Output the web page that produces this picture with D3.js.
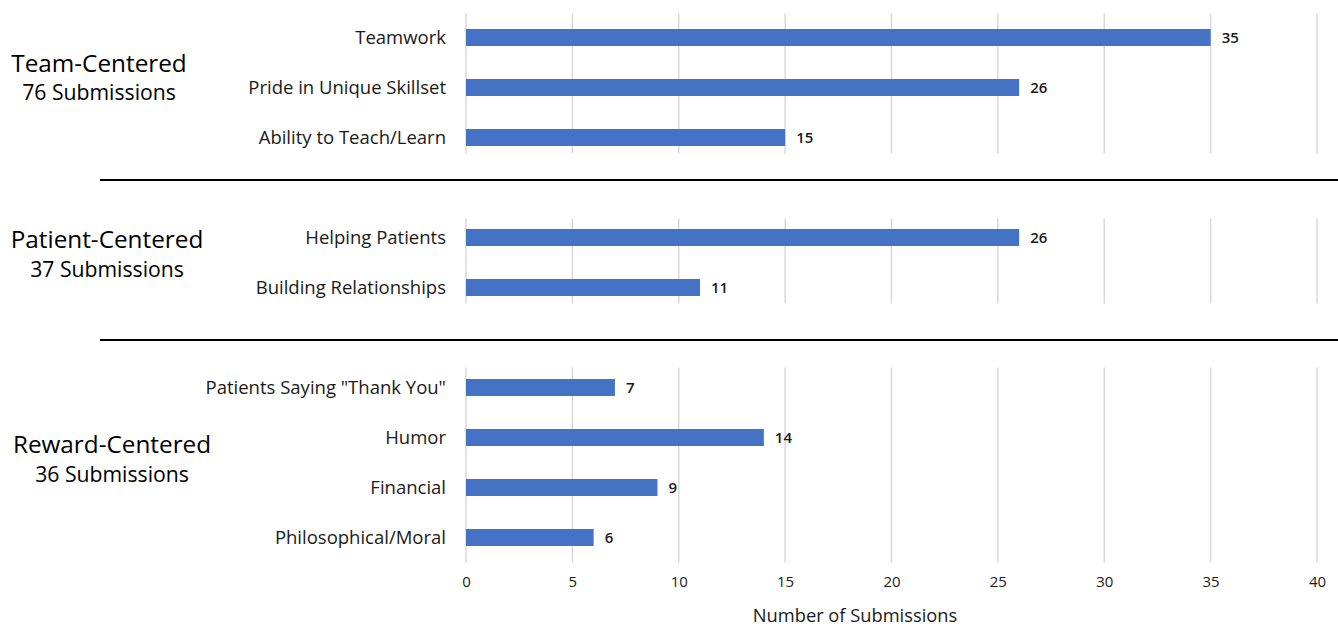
<!DOCTYPE html>
<html>
<head>
<meta charset="utf-8">
<script src="https://cdn.jsdelivr.net/npm/d3@7"></script>
<style>
  html, body { margin: 0; padding: 0; background: #fff; }
  svg { display: block; font-family: "Open Sans", Lato, sans-serif; }
</style>
</head>
<body>
<svg id="chart" width="1338" height="626"></svg>
<script>
// ---- data ----
const groupNames = ["Team-Centered", "Patient-Centered", "Reward-Centered"];
const groupTotals = [76, 37, 36];
const categories = [
  "Teamwork", "Pride in Unique Skillset", "Ability to Teach/Learn",
  "Helping Patients", "Building Relationships",
  "Patients Saying \"Thank You\"", "Humor", "Financial", "Philosophical/Moral"
];
const values = [35, 26, 15, 26, 11, 7, 14, 9, 6];
const categoryGroup = [0, 0, 0, 1, 1, 2, 2, 2, 2];
const xTicks = [0, 5, 10, 15, 20, 25, 30, 35, 40];
const axisTitle = "Number of Submissions";

// ---- layout ----
const svg = d3.select("#chart");
const x = d3.scaleLinear().domain([0, 40]).range([466, 1317]);
// row index: category index + group index (one empty row between groups)
const rowOf = i => i + categoryGroup[i];
const y = d3.scaleLinear().domain([0, 10]).range([37.5, 537.5]);
const barH = 17;
const color = "#4472C4";

// group extents for gridlines
const groupRows = groupNames.map((g, gi) => {
  const rows = categories.map((c, i) => i).filter(i => categoryGroup[i] === gi).map(rowOf);
  return [d3.min(rows), d3.max(rows)];
});
const gridPad = [[-24, 16], [-19, 16], [-20, 25]];

// gridlines
groupRows.forEach((r, gi) => {
  svg.append("g").selectAll("line").data(xTicks).join("line")
    .attr("x1", d => x(d)).attr("x2", d => x(d))
    .attr("y1", y(r[0]) + gridPad[gi][0])
    .attr("y2", y(r[1]) + gridPad[gi][1])
    .attr("stroke", "#d9d9d9").attr("stroke-width", 1.5);
});

// separators
[180, 340].forEach(sy => {
  svg.append("line").attr("x1", 100).attr("x2", 1338)
    .attr("y1", sy).attr("y2", sy)
    .attr("stroke", "#000").attr("stroke-width", 2);
});

// bars
const idx = categories.map((c, i) => i);
svg.append("g").selectAll("rect").data(idx).join("rect")
  .attr("x", x(0))
  .attr("y", i => y(rowOf(i)) - barH / 2)
  .attr("width", i => x(values[i]) - x(0))
  .attr("height", barH)
  .attr("fill", color);

// value labels
svg.append("g").selectAll("text").data(idx).join("text")
  .attr("x", i => x(values[i]) + 11)
  .attr("y", i => y(rowOf(i)))
  .attr("dy", "0.35em")
  .attr("font-size", 15)
  .attr("font-weight", 600)
  .attr("fill", "#1a1a1a")
  .text(i => values[i]);

// category labels
svg.append("g").selectAll("text").data(idx).join("text")
  .attr("x", 446)
  .attr("y", i => y(rowOf(i)))
  .attr("dy", "0.35em")
  .attr("text-anchor", "end")
  .attr("font-size", 18.5)
  .attr("fill", "#1a1a1a")
  .text(i => categories[i]);

// x axis tick labels
const axis = d3.axisBottom(x).tickValues(xTicks).tickSize(0).tickPadding(0);
const ax = svg.append("g").attr("transform", "translate(0,576)").call(axis);
ax.select(".domain").remove();
ax.selectAll("text").attr("font-size", 15).attr("fill", "#1a1a1a")
  .attr("font-family", "'Open Sans', Lato, sans-serif");

// axis title
svg.append("text").attr("x", 855).attr("y", 622)
  .attr("text-anchor", "middle").attr("font-size", 18.3).attr("fill", "#1a1a1a")
  .text(axisTitle);

// group titles
const titlePos = [[99, 72, 100], [107, 248, 277], [112, 453, 482]];
groupNames.forEach((g, gi) => {
  const [cx, y1, y2] = titlePos[gi];
  svg.append("text").attr("x", cx).attr("y", y1).attr("text-anchor", "middle")
    .attr("font-size", 24.3).attr("fill", "#000").text(g);
  svg.append("text").attr("x", cx).attr("y", y2).attr("text-anchor", "middle")
    .attr("font-size", 21.2).attr("fill", "#000").text(groupTotals[gi] + " Submissions");
});
</script>
</body>
</html>
